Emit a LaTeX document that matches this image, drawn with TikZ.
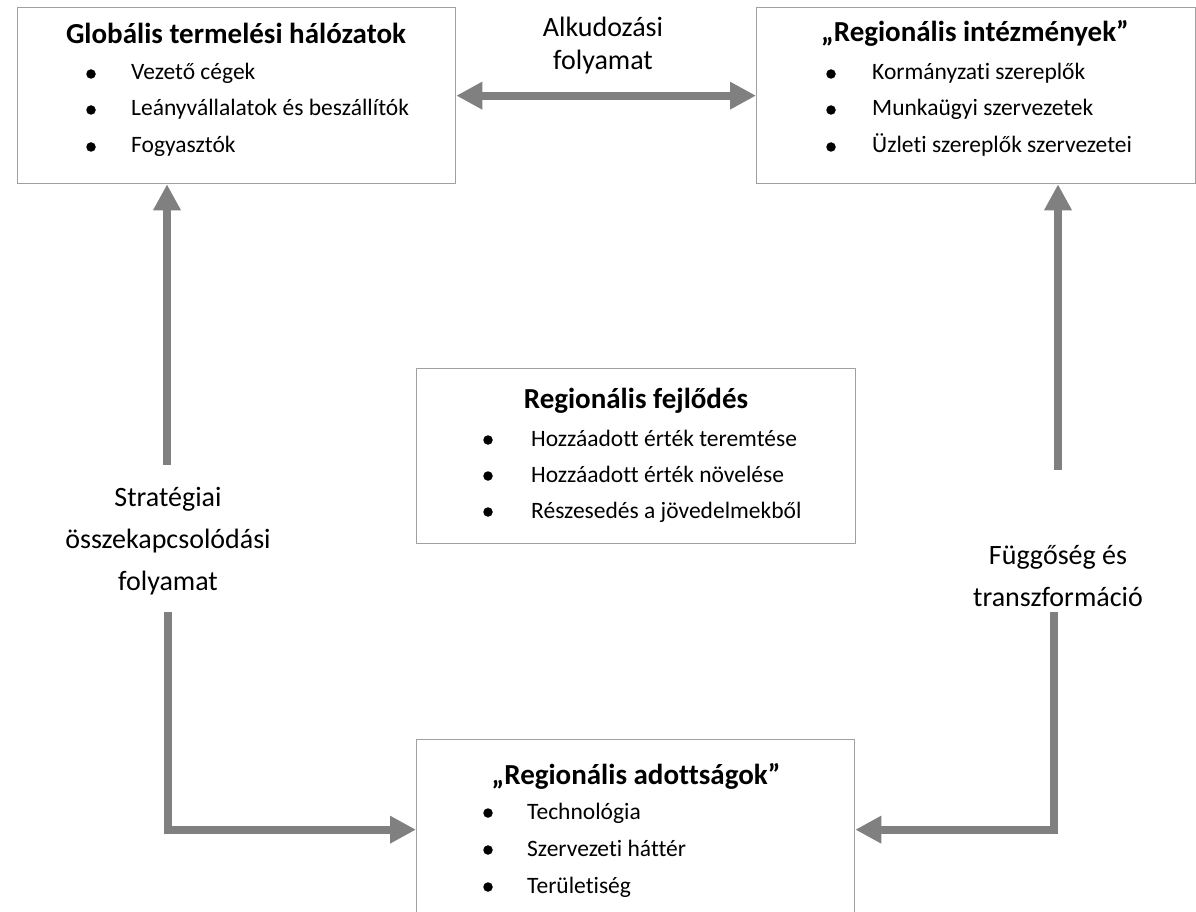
\documentclass[tikz,border=0pt]{standalone}
\usepackage{fontspec}
\setmainfont{Carlito}[Ligatures=NoCommon]
\usetikzlibrary{arrows.meta}
\definecolor{boxgray}{RGB}{160,160,160}
\definecolor{arrgray}{RGB}{128,128,128}
\begin{document}
\begin{tikzpicture}[x=1pt,y=-1pt,
  box/.style={draw=boxgray, line width=1.3pt, anchor=north west, inner sep=0pt},
  ttl/.style={font=\fontsize{29}{32}\selectfont\bfseries, inner sep=0pt},
  itm/.style={font=\fontsize{23.5}{28}\selectfont, anchor=base west, inner sep=0pt},
  bul/.style={circle, fill=black, minimum size=9.5pt, inner sep=0pt},
  lbl/.style={font=\fontsize{28}{42}\selectfont, align=center, inner sep=0pt},
  bigarrow/.style={draw=arrgray, line width=8pt, line join=miter,
    -{Triangle[length=26pt,width=26pt]}, color=arrgray},
]
\clip (0,0) rectangle (1196,912);
\fill[white] (0,0) rectangle (1196,912);

% boxes
\node[box, minimum width=438pt, minimum height=176pt] (gth) at (17,7) {};
\node[box, minimum width=439pt, minimum height=176pt] (ri) at (756,7) {};
\node[box, minimum width=439pt, minimum height=175pt] (rf) at (416,368) {};
\node[box, minimum width=438pt, minimum height=180pt] (ad) at (416,739) {};

% global production networks
\node[ttl] (gtht) at (236,33) {Globális termelési hálózatok};
\node[bul] (gthb1) at (91,74) {};
\node[itm] (gthi1) at (131,80) {Vezető cégek};
\node[bul] (gthb2) at (91,110) {};
\node[itm] (gthi2) at (131,116) {Leányvállalatok és beszállítók};
\node[bul] (gthb3) at (91,147) {};
\node[itm] (gthi3) at (131,153) {Fogyasztók};

% regional institutions
\node[ttl] (rit) at (975,33) {„Regionális intézmények”};
\node[bul] (rib1) at (831,74) {};
\node[itm] (rii1) at (872,80) {Kormányzati szereplők};
\node[bul] (rib2) at (831,110) {};
\node[itm] (rii2) at (872,116) {Munkaügyi szervezetek};
\node[bul] (rib3) at (831,147) {};
\node[itm] (rii3) at (872,153) {Üzleti szereplők szervezetei};

% regional development
\node[ttl] (rft) at (636,401) {Regionális fejlődés};
\node[bul] (rfb1) at (488,440) {};
\node[itm] (rfi1) at (531,446) {Hozzáadott érték teremtése};
\node[bul] (rfb2) at (488,476) {};
\node[itm] (rfi2) at (531,482) {Hozzáadott érték növelése};
\node[bul] (rfb3) at (488,512) {};
\node[itm] (rfi3) at (531,518) {Részesedés a jövedelmekből};

% regional endowments
\node[ttl] (adt) at (636,776) {„Regionális adottságok”};
\node[bul] (adb1) at (488,813) {};
\node[itm] (adi1) at (527,819) {Technológia};
\node[bul] (adb2) at (488,850) {};
\node[itm] (adi2) at (527,856) {Szervezeti háttér};
\node[bul] (adb3) at (488,887) {};
\node[itm] (adi3) at (527,893) {Területiség};

% labels
\node[lbl, font=\fontsize{28}{33}\selectfont] (alk) at (603,46) {Alkudozási\\folyamat};
\node[lbl] (strat) at (168,541) {Stratégiai\\összekapcsolódási\\folyamat};
\node[lbl] (fugg) at (1058,576) {Függőség és\\transzformáció};

% connectors
\coordinate (s1) at (167,465);
\coordinate (s2) at (168,612);
\coordinate (f1) at (1058,470);
\coordinate (f2) at (1054,612);

\draw[bigarrow, {Triangle[length=26pt,width=26pt]}-{Triangle[length=26pt,width=26pt]}] (gth.east) -- (ri.west);
\draw[bigarrow] (s1) -- (s1 |- gth.south);
\draw[bigarrow] (f1) -- (f1 |- ri.south);
\draw[bigarrow] (s2) |- (ad.west);
\draw[bigarrow] (f2) |- (ad.east);
\end{tikzpicture}
\end{document}
